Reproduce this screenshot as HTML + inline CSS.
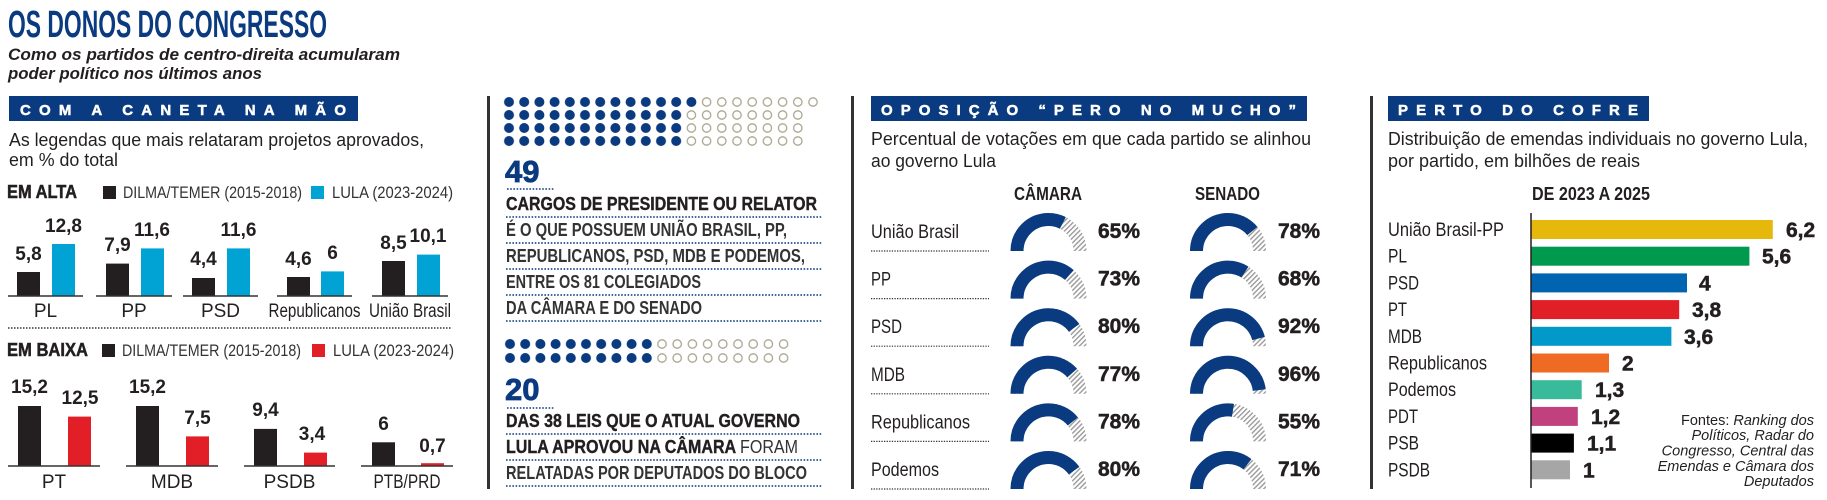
<!DOCTYPE html>
<html><head><meta charset="utf-8"><style>
html,body{margin:0;padding:0;background:#fff}
svg{display:block}
text{font-family:"Liberation Sans",sans-serif}
.b{font-weight:bold}
.v{font-weight:bold;font-size:19px;fill:#231f20;text-anchor:middle}
.cat{font-size:19px;fill:#231f20;text-anchor:middle}
.lg{font-size:17px;fill:#333}
.mid{font-weight:bold;font-size:18px;fill:#231f20}
.pl{font-size:19px;fill:#231f20}
.pct{font-weight:bold;font-size:21px;fill:#231f20;stroke:#231f20;stroke-width:0.5}
.bn{font-size:15px;font-weight:bold;fill:#fff;stroke:#fff;stroke-width:0.5}
</style></head><body>
<svg width="1827" height="500" viewBox="0 0 1827 500" xmlns="http://www.w3.org/2000/svg">
<defs>
<pattern id="hatch" patternUnits="userSpaceOnUse" width="3.5" height="3.5" patternTransform="rotate(45)">
<rect width="3.5" height="3.5" fill="#fff"/><rect width="1.4" height="3.5" fill="#9a9a9a"/></pattern>
<pattern id="df1" patternUnits="userSpaceOnUse" x="501.4" y="95.5" width="15.2" height="13"><circle cx="7.6" cy="6.5" r="5" fill="#0a3a7f"/></pattern>
<pattern id="de1" patternUnits="userSpaceOnUse" x="501.4" y="95.5" width="15.2" height="13"><circle cx="7.6" cy="6.5" r="4.2" fill="none" stroke="#a9a58f" stroke-width="1.3"/></pattern>
<pattern id="df2" patternUnits="userSpaceOnUse" x="502.4" y="337" width="15.2" height="14"><circle cx="7.6" cy="7" r="5" fill="#0a3a7f"/></pattern>
<pattern id="de2" patternUnits="userSpaceOnUse" x="502.4" y="337" width="15.2" height="14"><circle cx="7.6" cy="7" r="4.2" fill="none" stroke="#a9a58f" stroke-width="1.3"/></pattern>
</defs>

<!-- Title -->
<text x="8" y="37" font-size="38" class="b" fill="#0a3a7f" textLength="319" lengthAdjust="spacingAndGlyphs">OS DONOS DO CONGRESSO</text>
<text x="8" y="60" font-size="16.5" font-weight="bold" font-style="italic" fill="#231f20" textLength="392" lengthAdjust="spacingAndGlyphs">Como os partidos de centro-direita acumularam</text>
<text x="8" y="79" font-size="16.5" font-weight="bold" font-style="italic" fill="#231f20" textLength="254" lengthAdjust="spacingAndGlyphs">poder político nos últimos anos</text>

<!-- Panel 1 -->
<rect x="9" y="96" width="349" height="25" fill="#0a3a7f"/>
<text x="20" y="115" class="bn" textLength="326" lengthAdjust="spacing">COM A CANETA NA MÃO</text>
<text x="9" y="146" font-size="18" fill="#231f20" textLength="415" lengthAdjust="spacingAndGlyphs">As legendas que mais relataram projetos aprovados,</text>
<text x="9" y="166" font-size="18" fill="#231f20" textLength="109" lengthAdjust="spacingAndGlyphs">em % do total</text>

<text x="7" y="198" font-size="18" class="b" fill="#231f20" stroke="#231f20" stroke-width="0.5" textLength="70" lengthAdjust="spacingAndGlyphs">EM ALTA</text>
<rect x="103" y="186" width="13" height="13" fill="#231f20"/>
<text x="123" y="198" class="lg" textLength="179" lengthAdjust="spacingAndGlyphs">DILMA/TEMER (2015-2018)</text>
<rect x="311" y="186" width="13" height="13" fill="#00a3d4"/>
<text x="332" y="198" class="lg" textLength="121" lengthAdjust="spacingAndGlyphs">LULA (2023-2024)</text>

<g fill="#231f20">
<rect x="17" y="272" width="23" height="24"/><rect x="106" y="263.6" width="23" height="32.4"/><rect x="192" y="278" width="23" height="18"/><rect x="287" y="277" width="23" height="19"/><rect x="382" y="261" width="23" height="35"/>
</g>
<g fill="#00a3d4">
<rect x="52" y="244" width="23" height="52"/><rect x="141" y="248.4" width="23" height="47.6"/><rect x="227" y="248.4" width="23" height="47.6"/><rect x="321" y="271.4" width="23" height="24.6"/><rect x="417" y="254.6" width="23" height="41.4"/>
</g>
<g stroke="#333" stroke-width="1.5">
<line x1="8" y1="296" x2="83" y2="296"/><line x1="96" y1="296" x2="172" y2="296"/><line x1="183" y1="296" x2="258" y2="296"/><line x1="277" y1="296" x2="352" y2="296"/><line x1="372" y1="296" x2="448" y2="296"/>
</g>
<text class="v" x="28.5" y="260">5,8</text><text class="v" x="63.5" y="232">12,8</text>
<text class="v" x="117.5" y="251">7,9</text><text class="v" x="152" y="236">11,6</text>
<text class="v" x="203.5" y="265">4,4</text><text class="v" x="238.5" y="236">11,6</text>
<text class="v" x="298.5" y="265">4,6</text><text class="v" x="332.5" y="259">6</text>
<text class="v" x="393.5" y="249">8,5</text><text class="v" x="428" y="242">10,1</text>
<text class="cat" x="45.5" y="317">PL</text><text class="cat" x="134" y="317">PP</text><text class="cat" x="220.5" y="317">PSD</text>
<text class="cat" x="314.5" y="317" textLength="92" lengthAdjust="spacingAndGlyphs">Republicanos</text>
<text class="cat" x="410" y="317" textLength="82" lengthAdjust="spacingAndGlyphs">União Brasil</text>

<line x1="8" y1="328" x2="452" y2="328" stroke="#333" stroke-width="1.5" stroke-dasharray="1.5,1.5"/>

<text x="7" y="356" font-size="18" class="b" fill="#231f20" stroke="#231f20" stroke-width="0.5" textLength="81" lengthAdjust="spacingAndGlyphs">EM BAIXA</text>
<rect x="102" y="344" width="13" height="13" fill="#231f20"/>
<text x="122" y="356" class="lg" textLength="179" lengthAdjust="spacingAndGlyphs">DILMA/TEMER (2015-2018)</text>
<rect x="312" y="344" width="13" height="13" fill="#e21f26"/>
<text x="333" y="356" class="lg" textLength="121" lengthAdjust="spacingAndGlyphs">LULA (2023-2024)</text>

<g fill="#231f20">
<rect x="18" y="406" width="23" height="60"/><rect x="136" y="406" width="23" height="60"/><rect x="254" y="428.9" width="23" height="37.1"/><rect x="372" y="442.3" width="23" height="23.7"/>
</g>
<g fill="#e21f26">
<rect x="68" y="416.6" width="23" height="49.4"/><rect x="186" y="436.4" width="23" height="29.6"/><rect x="304" y="452.6" width="23" height="13.4"/><rect x="421" y="463.2" width="23" height="2.8"/>
</g>
<g stroke="#333" stroke-width="1.5">
<line x1="8" y1="466" x2="100" y2="466"/><line x1="126" y1="466" x2="218" y2="466"/><line x1="244" y1="466" x2="335" y2="466"/><line x1="361" y1="466" x2="453" y2="466"/>
</g>
<text class="v" x="29.5" y="393">15,2</text><text class="v" x="80" y="404">12,5</text>
<text class="v" x="147.5" y="393">15,2</text><text class="v" x="197.5" y="424">7,5</text>
<text class="v" x="265.5" y="416">9,4</text><text class="v" x="312" y="440">3,4</text>
<text class="v" x="383.5" y="430">6</text><text class="v" x="432.5" y="452">0,7</text>
<text class="cat" x="54" y="488">PT</text><text class="cat" x="172" y="488">MDB</text><text class="cat" x="289.5" y="488">PSDB</text>
<text class="cat" x="407" y="488" textLength="67" lengthAdjust="spacingAndGlyphs">PTB/PRD</text>

<rect x="487" y="96" width="3" height="393" fill="#333"/>

<!-- Panel 2 -->
<rect x="501.4" y="95.5" width="197.6" height="13" fill="url(#df1)"/>
<rect x="699" y="95.5" width="121.6" height="13" fill="url(#de1)"/>
<rect x="501.4" y="108.5" width="182.4" height="39" fill="url(#df1)"/>
<rect x="683.8" y="108.5" width="121.6" height="39" fill="url(#de1)"/>
<text x="505" y="182" font-size="31" class="b" fill="#0a3a7f" stroke="#0a3a7f" stroke-width="0.8">49</text>
<g stroke="#0a3a7f" stroke-width="1.5" stroke-dasharray="1.6,1.6">
<line x1="507" y1="189" x2="555" y2="189"/>
<line x1="506" y1="217" x2="822" y2="217"/><line x1="506" y1="243" x2="822" y2="243"/><line x1="506" y1="269" x2="822" y2="269"/><line x1="506" y1="295" x2="822" y2="295"/><line x1="506" y1="321" x2="822" y2="321"/>
<line x1="507" y1="408" x2="555" y2="408"/>
<line x1="506" y1="434" x2="822" y2="434"/><line x1="506" y1="460" x2="822" y2="460"/><line x1="506" y1="486" x2="822" y2="486"/>
</g>
<text class="mid" x="506" y="210" stroke="#231f20" stroke-width="0.4" textLength="311" lengthAdjust="spacingAndGlyphs">CARGOS DE PRESIDENTE OU RELATOR</text>
<text class="mid" x="506" y="236" textLength="281" lengthAdjust="spacingAndGlyphs" style="fill:#333">É O QUE POSSUEM UNIÃO BRASIL, PP,</text>
<text class="mid" x="506" y="262" textLength="299" lengthAdjust="spacingAndGlyphs" style="fill:#333">REPUBLICANOS, PSD, MDB E PODEMOS,</text>
<text class="mid" x="506" y="288" textLength="195" lengthAdjust="spacingAndGlyphs" style="fill:#333">ENTRE OS 81 COLEGIADOS</text>
<text class="mid" x="506" y="314" textLength="196" lengthAdjust="spacingAndGlyphs" style="fill:#333">DA CÂMARA E DO SENADO</text>

<rect x="502.4" y="337" width="152" height="28" fill="url(#df2)"/>
<rect x="654.4" y="337" width="136.8" height="28" fill="url(#de2)"/>
<text x="505" y="400" font-size="31" class="b" fill="#0a3a7f" stroke="#0a3a7f" stroke-width="0.8">20</text>
<text class="mid" x="506" y="427" stroke="#231f20" stroke-width="0.4" textLength="294" lengthAdjust="spacingAndGlyphs">DAS 38 LEIS QUE O ATUAL GOVERNO</text>
<text class="mid" x="506" y="453" textLength="292" lengthAdjust="spacingAndGlyphs"><tspan stroke="#231f20" stroke-width="0.4">LULA APROVOU NA CÂMARA</tspan> <tspan font-weight="normal" fill="#333">FORAM</tspan></text>
<text class="mid" x="506" y="479" textLength="301" lengthAdjust="spacingAndGlyphs" style="fill:#333">RELATADAS POR DEPUTADOS DO BLOCO</text>

<rect x="851" y="96" width="3" height="393" fill="#333"/>

<!-- Panel 3 -->
<rect x="871" y="96" width="436" height="25" fill="#0a3a7f"/>
<text x="881" y="115" class="bn" textLength="415" lengthAdjust="spacing">OPOSIÇÃO “PERO NO MUCHO”</text>
<text x="871" y="145" font-size="18" fill="#231f20" textLength="440" lengthAdjust="spacingAndGlyphs">Percentual de votações em que cada partido se alinhou</text>
<text x="871" y="167" font-size="18" fill="#231f20" textLength="125" lengthAdjust="spacingAndGlyphs">ao governo Lula</text>
<text x="1014" y="200" font-size="18" class="b" fill="#231f20" textLength="68" lengthAdjust="spacingAndGlyphs">CÂMARA</text>
<text x="1195" y="200" font-size="18" class="b" fill="#231f20" textLength="65" lengthAdjust="spacingAndGlyphs">SENADO</text>

<g stroke="#333" stroke-width="1.2" stroke-dasharray="1.3,1.3">
<line x1="871" y1="251" x2="989" y2="251"/><line x1="871" y1="298.6" x2="989" y2="298.6"/><line x1="871" y1="346.2" x2="989" y2="346.2"/><line x1="871" y1="393.8" x2="989" y2="393.8"/><line x1="871" y1="441.4" x2="989" y2="441.4"/><line x1="871" y1="489" x2="989" y2="489"/>
</g>
<text class="pl" x="871" y="238" textLength="88" lengthAdjust="spacingAndGlyphs">União Brasil</text>
<text class="pl" x="871" y="285.6" textLength="20" lengthAdjust="spacingAndGlyphs">PP</text>
<text class="pl" x="871" y="333.2" textLength="31" lengthAdjust="spacingAndGlyphs">PSD</text>
<text class="pl" x="871" y="380.8" textLength="34" lengthAdjust="spacingAndGlyphs">MDB</text>
<text class="pl" x="871" y="428.4" textLength="99" lengthAdjust="spacingAndGlyphs">Republicanos</text>
<text class="pl" x="871" y="476" textLength="68" lengthAdjust="spacingAndGlyphs">Podemos</text>

<g fill="none" stroke-width="13">
<g transform="translate(1048.5,251)"><path d="M-31.5,0 A31.5,31.5 0 0 1 31.5,0" stroke="url(#hatch)"/><path d="M-31.5,0 A31.5,31.5 0 0 1 31.5,0" stroke="#0a3a7f" stroke-dasharray="64.3,200"/></g>
<g transform="translate(1228,251)"><path d="M-31.5,0 A31.5,31.5 0 0 1 31.5,0" stroke="url(#hatch)"/><path d="M-31.5,0 A31.5,31.5 0 0 1 31.5,0" stroke="#0a3a7f" stroke-dasharray="77.2,200"/></g>
<g transform="translate(1048.5,298.6)"><path d="M-31.5,0 A31.5,31.5 0 0 1 31.5,0" stroke="url(#hatch)"/><path d="M-31.5,0 A31.5,31.5 0 0 1 31.5,0" stroke="#0a3a7f" stroke-dasharray="72.2,200"/></g>
<g transform="translate(1228,298.6)"><path d="M-31.5,0 A31.5,31.5 0 0 1 31.5,0" stroke="url(#hatch)"/><path d="M-31.5,0 A31.5,31.5 0 0 1 31.5,0" stroke="#0a3a7f" stroke-dasharray="67.3,200"/></g>
<g transform="translate(1048.5,346.2)"><path d="M-31.5,0 A31.5,31.5 0 0 1 31.5,0" stroke="url(#hatch)"/><path d="M-31.5,0 A31.5,31.5 0 0 1 31.5,0" stroke="#0a3a7f" stroke-dasharray="79.2,200"/></g>
<g transform="translate(1228,346.2)"><path d="M-31.5,0 A31.5,31.5 0 0 1 31.5,0" stroke="url(#hatch)"/><path d="M-31.5,0 A31.5,31.5 0 0 1 31.5,0" stroke="#0a3a7f" stroke-dasharray="91.0,200"/></g>
<g transform="translate(1048.5,393.8)"><path d="M-31.5,0 A31.5,31.5 0 0 1 31.5,0" stroke="url(#hatch)"/><path d="M-31.5,0 A31.5,31.5 0 0 1 31.5,0" stroke="#0a3a7f" stroke-dasharray="76.2,200"/></g>
<g transform="translate(1228,393.8)"><path d="M-31.5,0 A31.5,31.5 0 0 1 31.5,0" stroke="url(#hatch)"/><path d="M-31.5,0 A31.5,31.5 0 0 1 31.5,0" stroke="#0a3a7f" stroke-dasharray="95.0,200"/></g>
<g transform="translate(1048.5,441.4)"><path d="M-31.5,0 A31.5,31.5 0 0 1 31.5,0" stroke="url(#hatch)"/><path d="M-31.5,0 A31.5,31.5 0 0 1 31.5,0" stroke="#0a3a7f" stroke-dasharray="77.2,200"/></g>
<g transform="translate(1228,441.4)"><path d="M-31.5,0 A31.5,31.5 0 0 1 31.5,0" stroke="url(#hatch)"/><path d="M-31.5,0 A31.5,31.5 0 0 1 31.5,0" stroke="#0a3a7f" stroke-dasharray="54.4,200"/></g>
<g transform="translate(1048.5,489)"><path d="M-31.5,0 A31.5,31.5 0 0 1 31.5,0" stroke="url(#hatch)"/><path d="M-31.5,0 A31.5,31.5 0 0 1 31.5,0" stroke="#0a3a7f" stroke-dasharray="79.2,200"/></g>
<g transform="translate(1228,489)"><path d="M-31.5,0 A31.5,31.5 0 0 1 31.5,0" stroke="url(#hatch)"/><path d="M-31.5,0 A31.5,31.5 0 0 1 31.5,0" stroke="#0a3a7f" stroke-dasharray="70.3,200"/></g>
</g>
<text class="pct" x="1098" y="238">65%</text><text class="pct" x="1278" y="238">78%</text>
<text class="pct" x="1098" y="285.6">73%</text><text class="pct" x="1278" y="285.6">68%</text>
<text class="pct" x="1098" y="333.2">80%</text><text class="pct" x="1278" y="333.2">92%</text>
<text class="pct" x="1098" y="380.8">77%</text><text class="pct" x="1278" y="380.8">96%</text>
<text class="pct" x="1098" y="428.4">78%</text><text class="pct" x="1278" y="428.4">55%</text>
<text class="pct" x="1098" y="476">80%</text><text class="pct" x="1278" y="476">71%</text>

<rect x="1370" y="96" width="3" height="393" fill="#333"/>

<!-- Panel 4 -->
<rect x="1388" y="96" width="261" height="25" fill="#0a3a7f"/>
<text x="1398" y="115" class="bn" textLength="240" lengthAdjust="spacing">PERTO DO COFRE</text>
<text x="1388" y="145" font-size="18" fill="#231f20" textLength="420" lengthAdjust="spacingAndGlyphs">Distribuição de emendas individuais no governo Lula,</text>
<text x="1388" y="167" font-size="18" fill="#231f20" textLength="252" lengthAdjust="spacingAndGlyphs">por partido, em bilhões de reais</text>
<text x="1532" y="200" font-size="18" class="b" fill="#231f20" textLength="118" lengthAdjust="spacingAndGlyphs">DE 2023 A 2025</text>

<rect x="1531" y="220" width="241.8" height="19" fill="#e6b80b"/>
<rect x="1531" y="246.7" width="218.4" height="19" fill="#009a4e"/>
<rect x="1531" y="273.4" width="156" height="19" fill="#0064b0"/>
<rect x="1531" y="300.1" width="148.2" height="19" fill="#e01f26"/>
<rect x="1531" y="326.8" width="140.4" height="19" fill="#0099c9"/>
<rect x="1531" y="353.5" width="78" height="19" fill="#ef6a23"/>
<rect x="1531" y="380.2" width="50.7" height="19" fill="#38ba9b"/>
<rect x="1531" y="406.9" width="46.8" height="19" fill="#c0417e"/>
<rect x="1531" y="433.6" width="42.9" height="19" fill="#000"/>
<rect x="1531" y="460.3" width="39" height="19" fill="#a6a6a6"/>
<line x1="1531" y1="213" x2="1531" y2="488" stroke="#231f20" stroke-width="1.5"/>

<text class="pl" x="1388" y="236" textLength="116" lengthAdjust="spacingAndGlyphs">União Brasil-PP</text>
<text class="pl" x="1388" y="262.7" textLength="19" lengthAdjust="spacingAndGlyphs">PL</text>
<text class="pl" x="1388" y="289.4" textLength="31" lengthAdjust="spacingAndGlyphs">PSD</text>
<text class="pl" x="1388" y="316.1" textLength="19" lengthAdjust="spacingAndGlyphs">PT</text>
<text class="pl" x="1388" y="342.8" textLength="34" lengthAdjust="spacingAndGlyphs">MDB</text>
<text class="pl" x="1388" y="369.5" textLength="99" lengthAdjust="spacingAndGlyphs">Republicanos</text>
<text class="pl" x="1388" y="396.2" textLength="68" lengthAdjust="spacingAndGlyphs">Podemos</text>
<text class="pl" x="1388" y="422.9" textLength="30" lengthAdjust="spacingAndGlyphs">PDT</text>
<text class="pl" x="1388" y="449.6" textLength="31" lengthAdjust="spacingAndGlyphs">PSB</text>
<text class="pl" x="1388" y="476.3" textLength="42" lengthAdjust="spacingAndGlyphs">PSDB</text>

<text class="pct" x="1786" y="237">6,2</text>
<text class="pct" x="1762" y="263.7">5,6</text>
<text class="pct" x="1699" y="290.4">4</text>
<text class="pct" x="1692" y="317.1">3,8</text>
<text class="pct" x="1684" y="343.8">3,6</text>
<text class="pct" x="1622" y="370.5">2</text>
<text class="pct" x="1595" y="397.2">1,3</text>
<text class="pct" x="1591" y="423.9">1,2</text>
<text class="pct" x="1587" y="450.6">1,1</text>
<text class="pct" x="1583" y="477.3">1</text>

<g font-size="14.5" fill="#231f20" text-anchor="end">
<text x="1814" y="425">Fontes: <tspan font-style="italic">Ranking dos</tspan></text>
<text x="1814" y="440" font-style="italic">Políticos, Radar do</text>
<text x="1814" y="455.5" font-style="italic">Congresso, Central das</text>
<text x="1814" y="471" font-style="italic">Emendas e Câmara dos</text>
<text x="1814" y="486" font-style="italic">Deputados</text>
</g>
</svg>
</body></html>
